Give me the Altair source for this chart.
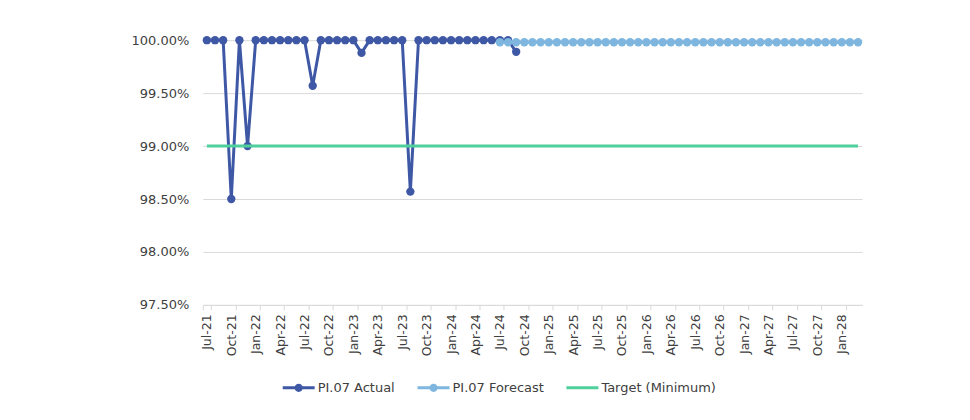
import altair as alt
import pandas as pd

months = []
for y in range(21, 29):
    for m in ["Jan", "Feb", "Mar", "Apr", "May", "Jun", "Jul", "Aug", "Sep", "Oct", "Nov", "Dec"]:
        months.append(f"{m}-{y}")
months = months[months.index("Jul-21"): months.index("Mar-28") + 1]

actual = [
    1.0, 1.0, 1.0, 0.985, 1.0, 0.990, 1.0, 1.0, 1.0, 1.0, 1.0, 1.0, 1.0,
    0.9957, 1.0, 1.0, 1.0, 1.0, 1.0, 0.9988, 1.0, 1.0, 1.0, 1.0, 1.0,
    0.9857, 1.0, 1.0, 1.0, 1.0, 1.0, 1.0, 1.0, 1.0, 1.0, 1.0, 1.0, 1.0, 0.9989,
]
forecast_start = "Jul-24"
forecast = [0.9998] * (len(months) - months.index(forecast_start))
target = [0.99] * len(months)

series_names = ["PI.07 Actual", "PI.07 Forecast", "Target (Minimum)"]
colors = ["#3F58A6", "#7EB6DF", "#4FCF9B"]
tick_labels = months[::3]

rows = []
for i, v in enumerate(actual):
    rows.append({"month": months[i], "series": series_names[0], "value": v})
fi = months.index(forecast_start)
for i, v in enumerate(forecast):
    rows.append({"month": months[fi + i], "series": series_names[1], "value": v})
for i, v in enumerate(target):
    rows.append({"month": months[i], "series": series_names[2], "value": v})
df = pd.DataFrame(rows)

FONT = "DejaVu Sans"
line_shape = "M-1,-0.09H1V0.09H-1Z"
dot_shape = line_shape + " M0.26,0A0.26,0.26 0 1,1 -0.26,0A0.26,0.26 0 1,1 0.26,0Z"

legend = alt.Legend(
    title=None,
    orient="none",
    direction="horizontal",
    legendX=80,
    legendY=332,
    symbolSize=1024,
    symbolOpacity=1,
    symbolStrokeWidth=0,
    labelFont=FONT,
    labelFontSize=13,
    labelColor="#404040",
    labelOffset=3,
    columnPadding=22,
)
color = alt.Color("series:N", scale=alt.Scale(domain=series_names, range=colors), legend=legend)
shape = alt.Shape(
    "series:N",
    scale=alt.Scale(domain=series_names, range=[dot_shape, dot_shape, line_shape]),
    legend=legend,
)

x = alt.X(
    "month:N",
    sort=months,
    title=None,
    scale=alt.Scale(domain=months, paddingInner=0, paddingOuter=0),
    axis=alt.Axis(
        values=tick_labels,
        labelAngle=-90,
        labelFont=FONT,
        labelFontSize=12.5,
        labelColor="#404040",
        labelPadding=4,
        tickBand="extent",
        tickSize=5,
        tickColor="#d9d9d9",
        domainColor="#d9d9d9",
        grid=False,
    ),
)
y = alt.Y(
    "value:Q",
    title=None,
    scale=alt.Scale(domain=[0.975, 1.0], nice=False, zero=False),
    axis=alt.Axis(
        values=[0.975, 0.98, 0.985, 0.99, 0.995, 1.0],
        format=".2%",
        labelFont=FONT,
        labelFontSize=13,
        labelColor="#404040",
        labelPadding=14,
        ticks=False,
        domain=False,
        gridColor="#d9d9d9",
    ),
)

base = alt.Chart(df).encode(x=x, y=y, color=color)

def sel(name):
    return alt.datum.series == name

layers = [
    base.transform_filter(sel(series_names[0])).mark_line(strokeWidth=3),
    base.transform_filter(sel(series_names[0])).mark_point(filled=True, size=70, opacity=1),
    base.transform_filter(sel(series_names[1])).mark_line(strokeWidth=3),
    base.transform_filter(sel(series_names[1])).mark_point(filled=True, size=70, opacity=1),
    base.transform_filter(sel(series_names[2])).mark_line(strokeWidth=3),
    base.mark_point(filled=True, opacity=0).encode(shape=shape),
]

chart = alt.layer(*layers).properties(
    width=660,
    height=265,
    autosize=alt.AutoSizeParams(type="none"),
    padding={"left": 195, "top": 32, "right": 100, "bottom": 100},
    background="white",
).configure_view(stroke=None)

chart.save("out.html", embed_options={"renderer": "svg", "actions": False})
